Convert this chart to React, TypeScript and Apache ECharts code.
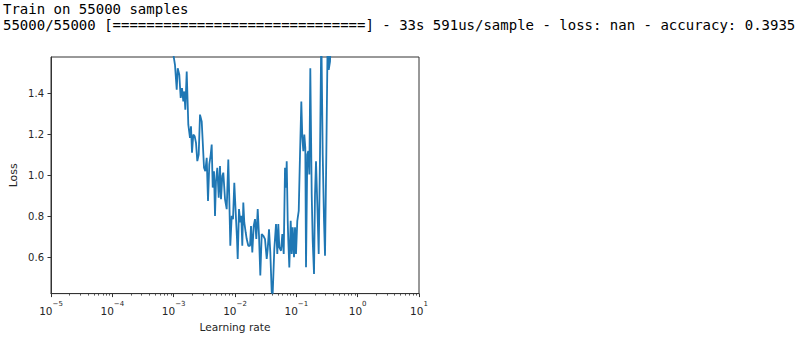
import React, { useEffect, useRef } from "react";
import * as echarts from "echarts";

const HEADER_LINES = [
  "Train on 55000 samples",
  "55000/55000 [==============================] - 33s 591us/sample - loss: nan - accuracy: 0.3935",
];

const X_NAME = "Learning rate";
const Y_NAME = "Loss";
const X_MIN = 1e-5;
const X_MAX = 10;
const Y_MIN = 0.422;
const Y_MAX = 1.576;
const Y_TICKS = [0.6, 0.8, 1.0, 1.2, 1.4];
const X_DECADES = [1e-5, 1e-4, 1e-3, 1e-2, 1e-1, 1];
const MINOR_MULTIPLIERS = [2, 3, 4, 5, 6, 7, 8, 9];

const LEARNING_RATES = [
  1e-5, 3e-5, 1e-4, 3e-4, 6e-4, 9e-4,
  9.87e-4, 1.051e-3, 1.121e-3, 1.164e-3, 1.236e-3, 1.302e-3, 1.368e-3, 1.436e-3, 1.491e-3, 1.548e-3,
  1.632e-3, 1.733e-3, 1.846e-3, 1.917e-3, 1.991e-3, 2.09e-3, 2.203e-3, 2.313e-3, 2.429e-3, 2.56e-3,
  2.688e-3, 2.865e-3, 2.975e-3, 3.124e-3, 3.28e-3, 3.457e-3, 3.63e-3, 3.812e-3, 4.017e-3, 4.17e-3,
  4.33e-3, 4.546e-3, 4.721e-3, 4.901e-3, 5.146e-3, 5.425e-3, 5.694e-3,
  5.913e-3, 6.209e-3, 6.447e-3, 6.873e-3, 7.324e-3, 7.778e-3, 8.075e-3, 8.384e-3, 8.837e-3, 9.279e-3,
  9.743e-3, 1.027e-2, 1.078e-2, 1.107e-2, 1.162e-2, 1.221e-2, 1.267e-2, 1.315e-2, 1.366e-2, 1.418e-2,
  1.495e-2, 1.552e-2, 1.648e-2, 1.757e-2, 1.824e-2, 1.915e-2, 2.018e-2, 2.12e-2, 2.226e-2, 2.346e-2,
  2.463e-2, 2.586e-2, 2.726e-2, 2.894e-2, 3.085e-2, 3.289e-2, 3.414e-2, 3.585e-2, 3.764e-2, 3.967e-2,
  4.118e-2, 4.374e-2, 4.662e-2, 4.895e-2, 5.082e-2, 5.278e-2, 5.627e-2, 5.907e-2, 6.227e-2, 6.538e-2,
  6.788e-2, 6.968e-2, 7.234e-2, 7.399e-2, 7.682e-2, 8.096e-2, 8.405e-2, 8.727e-2, 9.165e-2, 9.515e-2,
  9.879e-2, 0.1037, 0.1094, 0.1148, 0.1206, 0.1252, 0.13, 0.1349, 0.1401, 0.1438,
  0.151, 0.1568, 0.1628, 0.169, 0.1781, 0.1849, 0.1942, 0.2016, 0.2093, 0.2198,
  0.2316, 0.2432, 0.2554, 0.2692, 0.2827, 0.2935, 0.3083, 0.3249, 0.3372, 0.354,
  0.3747, 0.42,
];

const LOSSES = [
  2.74, 2.68, 2.55, 2.25, 1.9, 1.66,
  1.59, 1.537, 1.416, 1.521, 1.489, 1.376, 1.424, 1.359, 1.408, 1.319,
  1.505, 1.246, 1.182, 1.238, 1.109, 1.198, 1.189, 1.157, 1.068, 1.1,
  1.295, 1.262, 1.165, 1.036, 1.019, 1.084, 0.874, 1.052, 1.1, 1.149,
  0.939, 1.019, 0.801, 0.971, 1.036, 0.89, 1.044,
  0.882, 0.995, 1.012, 0.882, 0.834, 1.076, 0.882, 0.655, 0.801, 0.785,
  0.963, 0.817, 0.688, 0.591, 0.834, 0.769, 0.801, 0.655, 0.866, 0.769,
  0.72, 0.688, 0.655, 0.655, 0.752, 0.623, 0.752, 0.785, 0.688, 0.834,
  0.704, 0.51, 0.712, 0.704, 0.688, 0.591, 0.639, 0.736, 0.623, 0.429,
  0.422, 0.639, 0.761, 0.615, 0.761, 0.648, 0.631, 0.712, 0.615, 1.036,
  0.939, 1.068, 0.777, 0.68, 0.55, 0.777, 0.615, 0.745, 0.599, 0.745,
  0.615, 0.777, 0.825, 1.1, 1.359, 1.182, 1.117, 1.198, 1.133, 0.55,
  1.1, 1.117, 1.003, 1.521, 0.906, 0.68, 0.518, 0.906, 1.068, 0.858,
  0.615, 1.1, 1.7, 1.1, 0.777, 0.607, 1.1, 1.7, 1.513, 1.553,
  1.75, 2.2,
];

const MINOR_TICKS: number[] = [];
X_DECADES.forEach((d) => MINOR_MULTIPLIERS.forEach((m) => MINOR_TICKS.push(d * m)));

const AXIS_COLOR = "#333333";
const TEXT_COLOR = "#262626";
const LINE_COLOR = "#1f77b4";

function expLabel(v: number): string {
  const e = Math.round(Math.log10(v));
  const s = e < 0 ? "\u2212" + Math.abs(e) : String(e);
  return "{b|10}{s|" + s + "}";
}

export default function App() {
  const ref = useRef<HTMLDivElement>(null);
  useEffect(() => {
    if (!ref.current) return;
    const chart = echarts.init(ref.current, undefined, { renderer: "svg" });
    const mono = '14px "DejaVu Sans Mono", "Liberation Mono", monospace';
    chart.setOption({
      animation: false,
      backgroundColor: "#ffffff",
      textStyle: { fontFamily: "DejaVu Sans" },
      grid: {
        left: 51,
        top: 57,
        width: 368,
        height: 238,
        show: true,
        borderColor: AXIS_COLOR,
        borderWidth: 1,
        backgroundColor: "transparent",
        containLabel: false,
      },
      xAxis: [
        {
          type: "log",
          logBase: 10,
          min: X_MIN,
          max: X_MAX,
          name: X_NAME,
          nameLocation: "middle",
          nameGap: 25,
          nameTextStyle: { fontSize: 10.6, color: TEXT_COLOR, fontFamily: "DejaVu Sans" },
          axisLine: { show: true, onZero: false, lineStyle: { color: AXIS_COLOR, width: 1 } },
          axisTick: { show: true, inside: false, length: 3.5, lineStyle: { color: AXIS_COLOR, width: 1 } },
          axisLabel: {
            margin: 7,
            showMinLabel: true,
            showMaxLabel: true,
            formatter: (v: number) => expLabel(v),
            rich: {
              b: { fontSize: 10.5, lineHeight: 20, color: TEXT_COLOR, fontFamily: "DejaVu Sans" },
              s: { fontSize: 7, lineHeight: 7, verticalAlign: "top", color: TEXT_COLOR, fontFamily: "DejaVu Sans" },
            },
          },
          splitLine: { show: false },
          minorTick: { show: false },
          minorSplitLine: { show: false },
        },
        {
          type: "log",
          logBase: 10,
          min: X_MIN,
          max: X_MAX,
          position: "bottom",
          axisLine: { show: false, onZero: false },
          axisLabel: { show: false },
          axisTick: {
            show: true,
            inside: false,
            length: 2,
            customValues: MINOR_TICKS,
            lineStyle: { color: AXIS_COLOR, width: 0.8 },
          },
          splitLine: { show: false },
        },
      ],
      yAxis: {
        type: "value",
        min: Y_MIN,
        max: Y_MAX,
        name: Y_NAME,
        nameLocation: "middle",
        nameGap: 32,
        nameRotate: 90,
        nameTextStyle: { fontSize: 11, color: TEXT_COLOR, fontFamily: "DejaVu Sans" },
        axisLine: { show: true, onZero: false, lineStyle: { color: AXIS_COLOR, width: 1 } },
        axisTick: { show: true, inside: false, length: 3.5, customValues: Y_TICKS, lineStyle: { color: AXIS_COLOR, width: 1 } },
        axisLabel: {
          customValues: Y_TICKS,
          margin: 7,
          fontSize: 10,
          color: TEXT_COLOR,
          fontFamily: "DejaVu Sans",
          formatter: (v: number) => v.toFixed(1),
        },
        splitLine: { show: false },
      },
      series: [
        {
          type: "line",
          xAxisIndex: 0,
          yAxisIndex: 0,
          data: LEARNING_RATES.map((lr, i) => [lr, LOSSES[i]]),
          showSymbol: false,
          symbol: "none",
          clip: true,
          lineStyle: { color: LINE_COLOR, width: 1.8 },
          emphasis: { disabled: true },
        },
      ],
      graphic: [
        {
          type: "text",
          left: 3,
          top: 1.5,
          style: { text: HEADER_LINES[0], font: mono, fill: "#000000" },
        },
        {
          type: "text",
          left: 3,
          top: 18,
          style: { text: HEADER_LINES[1], font: mono, fill: "#000000" },
        },
      ],
    });
    return () => chart.dispose();
  }, []);
  return (
    <div style={{ position: "fixed", left: 0, top: 0, width: 799, height: 337, background: "#fff" }}>
      <div ref={ref} style={{ width: 799, height: 337 }} />
    </div>
  );
}
